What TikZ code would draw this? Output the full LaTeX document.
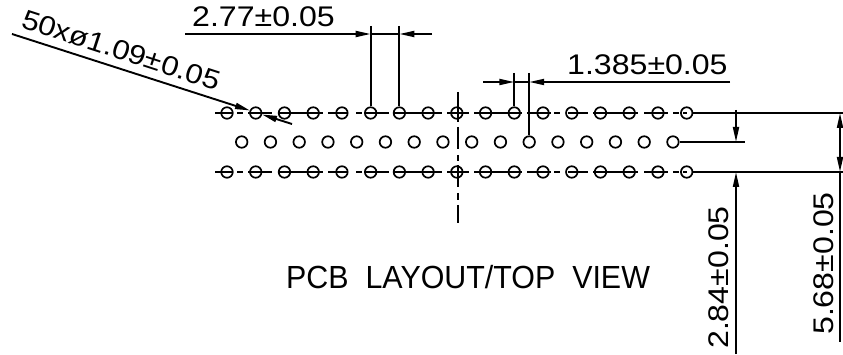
\documentclass[tikz,border=0pt]{standalone}
\usepackage{fontspec}
\setmainfont[FakeStretch=1.13]{Liberation Sans}
\newfontfamily\titlefont[FakeStretch=0.95]{Liberation Sans}
\usetikzlibrary{arrows.meta}
\tikzstyle{hole} = [circle, draw, line width=1.7pt, minimum size=11.5pt, inner sep=0pt]
\tikzstyle{dimline} = [line width=1.9pt, -{Triangle[length=15pt,width=6pt]}]
\tikzstyle{extline} = [line width=1.9pt]
\tikzstyle{dimtext} = [inner sep=0pt, font=\fontsize{28.4}{28}\selectfont]
\tikzstyle{titletext} = [inner sep=0pt, font=\titlefont\fontsize{32}{32}\selectfont]
\tikzstyle{rowline} = [line width=1.9pt, dash pattern=on 18pt off 4pt on 6pt off 5pt on 24pt off 6pt on 45pt off 5pt on 20pt off 8pt on 6pt off 3pt on 24pt off 5pt on 48pt off 5pt on 22pt off 5pt on 48pt off 5pt on 24pt off 3pt on 6pt off 8pt on 20pt off 5pt on 45pt off 6pt on 24pt off 5pt on 6pt off 4pt on 18pt off 50pt]
\tikzstyle{axisline} = [line width=1.9pt, dash pattern=on 30pt off 5pt on 22pt off 6pt on 6pt off 4pt on 22pt off 6pt on 7pt off 5pt on 18pt off 50pt]
\begin{document}
\begin{tikzpicture}[x=1pt, y=-1pt]
\useasboundingbox (0,0) rectangle (843,355);
% holes
\foreach \i in {0,...,16} {
    \node[hole] (t\i) at ({227+28.73*\i},113) {};
    \node[hole] (b\i) at ({227+28.73*\i},172) {};
}
\foreach \i in {0,...,15} {
    \node[hole] (m\i) at ({241.7+28.75*\i},142) {};
}
% center lines
\coordinate (topL) at (215,113);
\coordinate (topR) at (843,113);
\coordinate (botL) at (215,172);
\coordinate (botR) at (843,172);
\coordinate (axisT) at (457.7,92);
\coordinate (axisB) at (457.7,223);
\draw[rowline] (topL) -- (t16.center);
\draw[rowline] (botL) -- (b16.center);
\draw[axisline] (axisT) -- (axisB);
\draw[extline] (t16.east) -- (topR);
\draw[extline] (b16.east) -- (botR);
\coordinate (midR) at (745,142);
\draw[extline] (m15.east) -- (midR);
% 2.77
\coordinate (extA) at (t5 |- 0,26);
\coordinate (extB) at (t6 |- 0,26);
\coordinate (dimAL) at (185,34);
\coordinate (dimAR) at (432,34);
\draw[extline] (extA) -- (t5.north);
\draw[extline] (extB) -- (t6.north);
\draw[dimline] (dimAL) -- (t5 |- dimAL);
\draw[dimline] (dimAR) -- (t6 |- dimAR);
\draw[extline] (t5 |- dimAL) -- (t6 |- dimAL);
\node[dimtext, anchor=base west] (lblA) at (192,27) {2.77±0.05};
% 1.385
\coordinate (extC) at (t10 |- 0,73);
\coordinate (extD) at (m10 |- 0,73);
\coordinate (dimBL) at (483,82);
\coordinate (dimBR) at (730,82);
\draw[extline] (extC) -- (t10.north);
\draw[extline] (extD) -- (m10.north);
\draw[dimline] (dimBL) -- (t10 |- dimBL);
\draw[dimline] (dimBR) -- (m10 |- dimBR);
\draw[extline] (t10 |- dimBL) -- (m10 |- dimBL);
\node[dimtext, anchor=base west] (lblB) at (567,75) {1.385±0.05};
% 50 holes
\coordinate (leadA) at (12,34);
\coordinate (leadB) at (250,110.5);
\coordinate (leadC) at (292,124);
\coordinate (leadD) at (262,114.5);
\draw[dimline] (leadA) -- (leadB);
\draw[dimline] (leadC) -- (leadD);
\node[dimtext, anchor=base west, rotate=-18, font=\fontsize{27.4}{28}\selectfont] (lblC) at (20,27) {50xø1.09±0.05};
% 2.84
\coordinate (dimCT) at (736,110);
\coordinate (dimCM) at (736,142);
\coordinate (dimCC) at (736,172);
\coordinate (dimCB) at (736,354);
\draw[dimline] (dimCT) -- (dimCM);
\draw[dimline] (dimCB) -- (dimCC);
\node[dimtext, anchor=base west, rotate=90] (lblD) at (728,349) {2.84±0.05};
% 5.68
\coordinate (dimDT) at (840,113);
\coordinate (dimDC) at (840,172);
\coordinate (dimDB) at (840,342);
\draw[dimline, {Triangle[length=15pt,width=6pt]}-{Triangle[length=15pt,width=6pt]}] (dimDT) -- (dimDC);
\draw[extline] (dimDC) -- (dimDB);
\node[dimtext, anchor=base west, rotate=90] (lblE) at (833,335) {5.68±0.05};
\node[titletext, anchor=base west] (lblF) at (286,288) {PCB\ \ LAYOUT/TOP\ \ VIEW};
\end{tikzpicture}
\end{document}
